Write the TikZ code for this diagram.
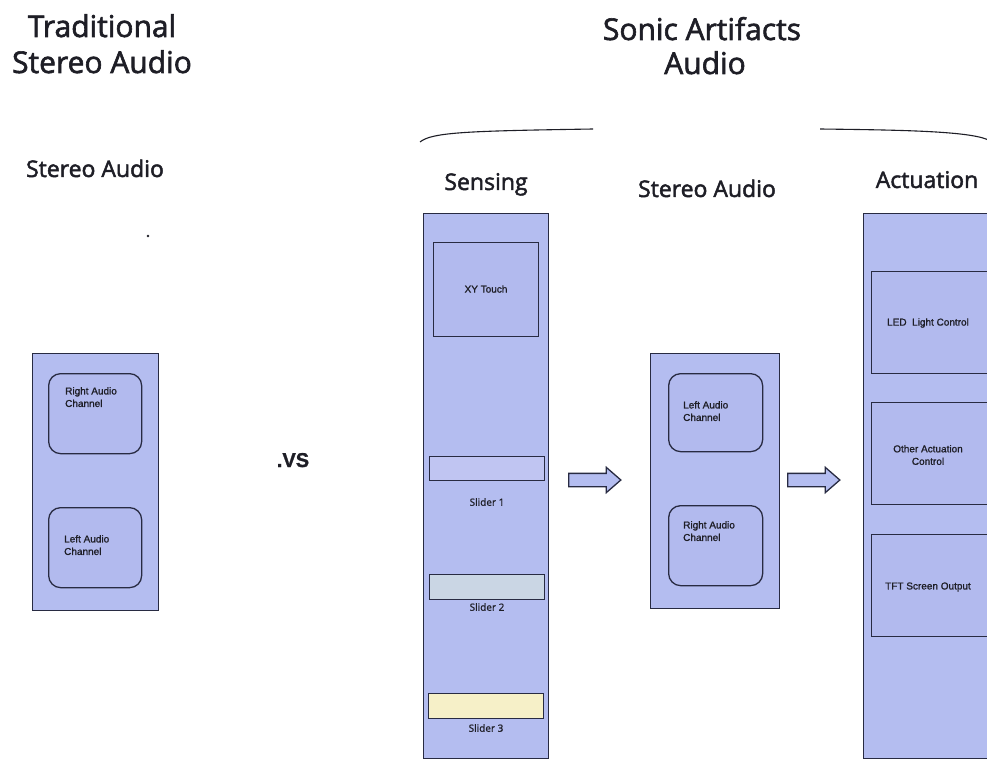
\documentclass[tikz,border=0pt]{standalone}
\usepackage{fontspec}
\setmainfont{Open Sans}
\newfontfamily\headfont[FakeBold=2]{Open Sans}
\newfontfamily\labelfont[FakeBold=1.2]{Liberation Sans}
\newfontfamily\sliderfont[FakeBold=1]{Open Sans}
\usetikzlibrary{shapes.arrows}

\definecolor{panelfill}{RGB}{180,189,240}
\definecolor{innerfill}{RGB}{178,186,238}
\definecolor{edgecol}{RGB}{40,43,66}
\definecolor{slideone}{RGB}{192,197,242}
\definecolor{slidetwo}{RGB}{202,214,228}
\definecolor{slidethree}{RGB}{246,240,200}
\definecolor{inkcol}{RGB}{30,30,38}

\tikzset{
  panel/.style={draw=edgecol, fill=panelfill, line width=1.3pt, inner sep=0pt,
                anchor=north west, rectangle},
  block/.style={draw=edgecol, fill=innerfill, line width=1.3pt, inner sep=0pt,
                anchor=north west, rectangle},
  channel/.style={block, rounded corners=12pt},
  bigtitle/.style={anchor=base, inner sep=0pt, text=inkcol,
                   font=\headfont\fontsize{30}{36}\selectfont},
  coltitle/.style={anchor=base, inner sep=0pt, text=inkcol,
                   font=\headfont\fontsize{23}{28}\selectfont},
  smalltxt/.style={inner sep=0pt, text=inkcol, align=left,
                   font=\labelfont\fontsize{10}{12.5}\selectfont},
  slidertxt/.style={inner sep=0pt, text=inkcol,
                    font=\sliderfont\fontsize{10}{12}\selectfont},
  flowarrow/.style={single arrow, draw=edgecol, fill=panelfill, line width=1.3pt,
                    minimum width=24pt, minimum height=52pt,
                    inner xsep=0pt, inner ysep=6pt,
                    single arrow head extend=6pt, single arrow tip angle=82,
                    single arrow head indent=0pt},
  brace/.style={draw=inkcol, line width=1.1pt}
}

\begin{document}
\begin{tikzpicture}[x=1pt, y=-1pt]
  \clip (0,0) rectangle (987,759);
  \fill[white] (0,0) rectangle (987,759);

  % ---- titles ----
  \node[bigtitle] (tradA) at (102,37) {Traditional};
  \node[bigtitle] (tradB) at (102,73) {Stereo Audio};
  \node[bigtitle] (sonA) at (702,40) {Sonic Artifacts};
  \node[bigtitle] (sonB) at (705,74) {Audio};

  % ---- brace strokes over the sonic artifacts columns ----
  \coordinate (bl0) at (420,142);
  \coordinate (bl1) at (593,129);
  \coordinate (br0) at (820,129);
  \coordinate (br1) at (990,141);
  \draw[brace] (bl0) .. controls (432,132) and (470,131) .. (bl1);
  \draw[brace] (br0) .. controls (900,130) and (975,131) .. (br1);

  % ---- column headings ----
  \node[coltitle] (hStereoL) at (95,177) {Stereo Audio};
  \node[coltitle] (hSense) at (486,190) {Sensing};
  \node[coltitle] (hStereoM) at (707,197) {Stereo Audio};
  \node[coltitle] (hAct) at (927,188) {Actuation};

  \fill[inkcol] (148,236) circle (1.3pt);

  % ---- traditional stereo panel ----
  \node[panel, minimum width=126pt, minimum height=257pt] (trad) at (32,353) {};
  \node[channel, minimum width=93pt, minimum height=80pt] (tradR) at (48,373) {};
  \node[channel, minimum width=93pt, minimum height=80pt] (tradL) at (48,507) {};
  \node[smalltxt, anchor=north west] (tradRt) at (65,387) {Right Audio\\Channel};
  \node[smalltxt, anchor=north west] (tradLt) at (64,535) {Left Audio\\Channel};

  % ---- versus ----
  \node[anchor=base, inner sep=0pt, text=inkcol,
        font=\labelfont\bfseries\fontsize{20}{24}\selectfont] (vs) at (293,467) {.VS};

  % ---- sensing panel ----
  \node[panel, minimum width=125pt, minimum height=545pt] (sense) at (423,213) {};
  \node[block, minimum width=105pt, minimum height=94pt] (xy) at (433,242) {};
  \node[smalltxt] (xyt) at (486,289) {XY Touch};
  \node[block, fill=slideone, minimum width=115pt, minimum height=24pt] (s1) at (429,456) {};
  \node[block, fill=slidetwo, minimum width=115pt, minimum height=25pt] (s2) at (429,574) {};
  \node[block, fill=slidethree, minimum width=115pt, minimum height=25pt] (s3) at (428,693) {};
  \node[slidertxt] (s1t) at (487,502) {Slider 1};
  \node[slidertxt] (s2t) at (487,607) {Slider 2};
  \node[slidertxt] (s3t) at (486,728) {Slider 3};

  % ---- stereo audio panel ----
  \node[panel, minimum width=129pt, minimum height=255pt] (mid) at (650,353) {};
  \node[channel, minimum width=94pt, minimum height=78pt] (midL) at (668,373) {};
  \node[channel, minimum width=94pt, minimum height=80pt] (midR) at (668,505) {};
  \node[smalltxt, anchor=north west] (midLt) at (683,401) {Left Audio\\Channel};
  \node[smalltxt, anchor=north west] (midRt) at (683,521) {Right Audio\\Channel};

  % ---- actuation panel ----
  \node[panel, minimum width=132pt, minimum height=545pt] (act) at (863,213) {};
  \node[block, minimum width=124pt, minimum height=102pt] (led) at (871,271) {};
  \node[block, minimum width=124pt, minimum height=102pt] (other) at (871,402) {};
  \node[block, minimum width=124pt, minimum height=102pt] (tft) at (871,534) {};
  \node[smalltxt] (ledt) at (928,323) {LED\ \ Light Control};
  \node[smalltxt, align=center] (othert) at (928,455) {Other Actuation\\Control};
  \node[smalltxt] (tftt) at (928,587) {TFT Screen Output};

  % ---- flow arrows between the panels ----
  \node[flowarrow] (arrA) at (591,480) {};
  \node[flowarrow] (arrB) at (810,480) {};
\end{tikzpicture}
\end{document}
